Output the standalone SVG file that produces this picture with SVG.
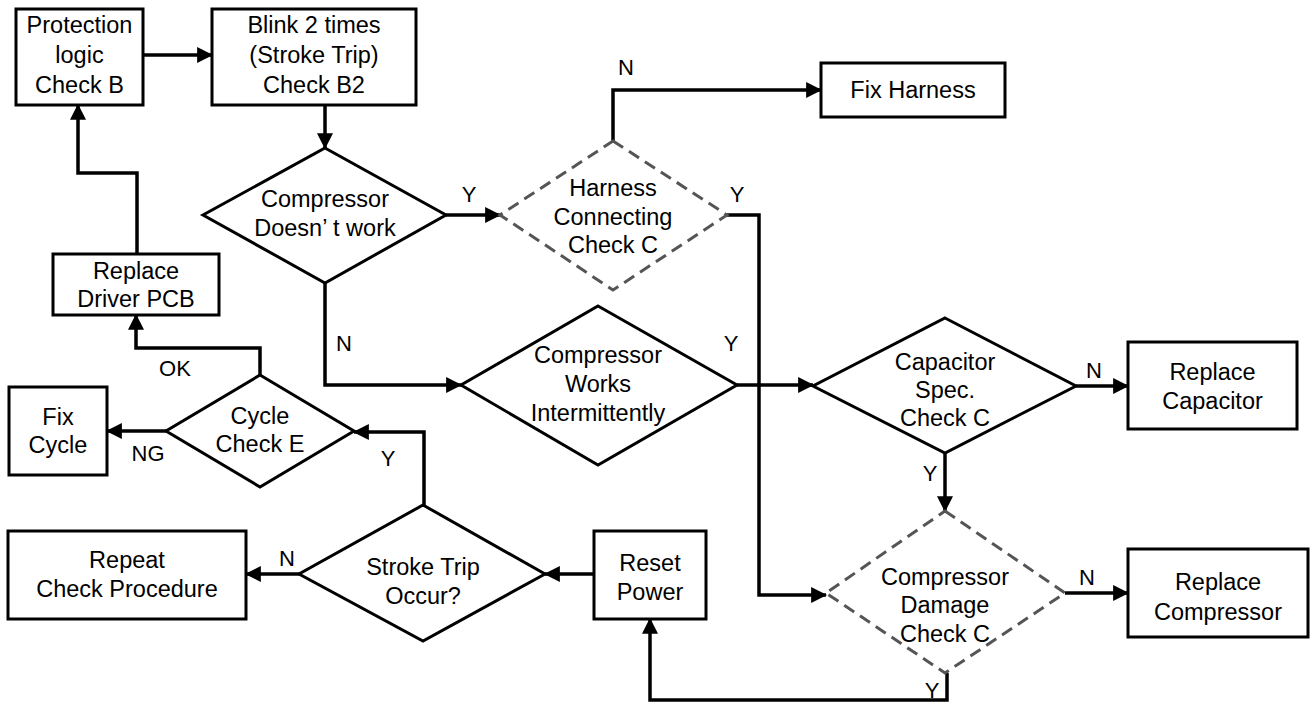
<svg xmlns="http://www.w3.org/2000/svg" width="1316" height="704" viewBox="0 0 1316 704">
<style>
.n{fill:#fff;stroke:#000;stroke-width:3}
.d{fill:#fff;stroke:#555;stroke-width:3;stroke-dasharray:12 7}
.t{font-family:"Liberation Sans",Arial,sans-serif;font-size:23.5px;fill:#000;text-anchor:middle}
.l{font-family:"Liberation Sans",Arial,sans-serif;font-size:22px;fill:#000;text-anchor:middle}
.c{fill:none;stroke:#000;stroke-width:3.5;marker-end:url(#a)}
</style>
<defs>
<marker id="a" markerUnits="userSpaceOnUse" markerWidth="16" markerHeight="16" viewBox="0 0 14 14" refX="13" refY="7" orient="auto">
<path d="M0,0 L14,7 L0,14 z" fill="#000"/>
</marker>
</defs>
<rect width="1316" height="704" fill="#fff"/>
<g id="connectors">
<path class="c" d="M143,55 H212"/>
<path class="c" d="M325,105 V148"/>
<path class="c" d="M137,254 V173 H78 V105"/>
<path class="c" d="M260,375 V348 H136 V315"/>
<path class="c" d="M166,431 H107"/>
<path class="c" d="M424,505 V432 H354"/>
<path class="c" d="M299,574 H246"/>
<path class="c" d="M594,574 H545"/>
<path class="c" d="M947,673 V700 H650 V619"/>
<path class="c" d="M446,215 H500"/>
<path class="c" d="M613,141 V90 H821"/>
<path class="c" d="M727,215 H759 V595 H826"/>
<path class="c" d="M325,283 V385 H461"/>
<path class="c" d="M737,385 H813"/>
<path class="c" d="M1076,386 H1128"/>
<path class="c" d="M945,453 V511"/>
<path class="c" d="M1065,593 H1128"/>
<text class="l" x="626" y="75">N</text>
<text class="l" x="469" y="202">Y</text>
<text class="l" x="737" y="202">Y</text>
<text class="l" x="344" y="351">N</text>
<text class="l" x="731" y="351">Y</text>
<text class="l" x="1094" y="378">N</text>
<text class="l" x="930" y="481">Y</text>
<text class="l" x="388" y="466">Y</text>
<text class="l" x="175" y="376">OK</text>
<text class="l" x="148" y="461">NG</text>
<text class="l" x="287" y="566">N</text>
<text class="l" x="1087" y="585">N</text>
<text class="l" x="932" y="698">Y</text>
</g>
<g id="protection">
<rect class="n" x="16" y="9" width="127" height="96"/>
<text class="t" x="79.5" y="33">Protection</text>
<text class="t" x="79.5" y="63">logic</text>
<text class="t" x="79.5" y="93">Check B</text>
</g>
<g id="blink">
<rect class="n" x="212" y="9" width="204" height="96"/>
<text class="t" x="314" y="33">Blink 2 times</text>
<text class="t" x="314" y="63">(Stroke Trip)</text>
<text class="t" x="314" y="93">Check B2</text>
</g>
<g id="compressor-doesnt-work">
<polygon class="n" points="325,148 446,215 325,283 203,215"/>
<text class="t" x="325" y="207">Compressor</text>
<text class="t" x="325" y="236">Doesn’ t work</text>
</g>
<g id="harness">
<polygon class="d" points="613,141 727,215 613,290 500,215"/>
<text class="t" x="613" y="196">Harness</text>
<text class="t" x="613" y="225">Connecting</text>
<text class="t" x="613" y="253">Check C</text>
</g>
<g id="fix-harness">
<rect class="n" x="821" y="63" width="184" height="54"/>
<text class="t" x="913" y="98">Fix Harness</text>
</g>
<g id="replace-driver-pcb">
<rect class="n" x="53" y="254" width="166" height="61"/>
<text class="t" x="136" y="279">Replace</text>
<text class="t" x="136" y="307">Driver PCB</text>
</g>
<g id="works-intermittently">
<polygon class="n" points="598,306 737,385 598,465 461,385"/>
<text class="t" x="598" y="363">Compressor</text>
<text class="t" x="598" y="392">Works</text>
<text class="t" x="598" y="421">Intermittently</text>
</g>
<g id="capacitor-spec">
<polygon class="n" points="945,318 1076,386 945,453 813,386"/>
<text class="t" x="945" y="370">Capacitor</text>
<text class="t" x="945" y="398">Spec.</text>
<text class="t" x="945" y="426">Check C</text>
</g>
<g id="replace-capacitor">
<rect class="n" x="1128" y="342" width="169" height="87"/>
<text class="t" x="1212.5" y="380">Replace</text>
<text class="t" x="1212.5" y="409">Capacitor</text>
</g>
<g id="fix-cycle">
<rect class="n" x="9" y="387" width="98" height="88"/>
<text class="t" x="58" y="425">Fix</text>
<text class="t" x="58" y="453">Cycle</text>
</g>
<g id="cycle-check">
<polygon class="n" points="260,375 354,431 260,487 166,431"/>
<text class="t" x="260" y="424">Cycle</text>
<text class="t" x="260" y="452">Check E</text>
</g>
<g id="stroke-trip">
<polygon class="n" points="423,505 545,574 423,641 299,574"/>
<text class="t" x="423" y="575">Stroke Trip</text>
<text class="t" x="423" y="604">Occur?</text>
</g>
<g id="repeat-check">
<rect class="n" x="8" y="531" width="238" height="88"/>
<text class="t" x="127" y="568">Repeat</text>
<text class="t" x="127" y="597">Check Procedure</text>
</g>
<g id="reset-power">
<rect class="n" x="594" y="531" width="112" height="88"/>
<text class="t" x="650" y="571">Reset</text>
<text class="t" x="650" y="600">Power</text>
</g>
<g id="compressor-damage">
<polygon class="d" points="945,511 1065,593 945,673 826,593"/>
<text class="t" x="945" y="585">Compressor</text>
<text class="t" x="945" y="613">Damage</text>
<text class="t" x="945" y="642">Check C</text>
</g>
<g id="replace-compressor">
<rect class="n" x="1128" y="549" width="180" height="88"/>
<text class="t" x="1218" y="590">Replace</text>
<text class="t" x="1218" y="620">Compressor</text>
</g>
</svg>
